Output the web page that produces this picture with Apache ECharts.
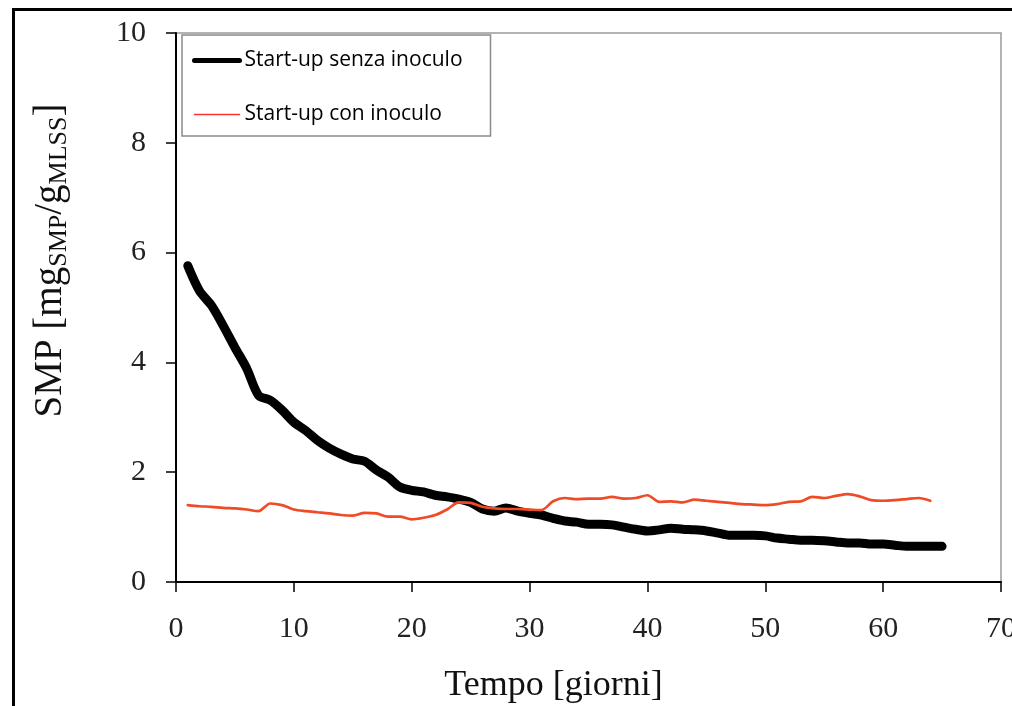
<!DOCTYPE html>
<html>

<head>
    <meta charset="utf-8">
    <title>SMP start-up</title>
    <script type="text/javascript" src="https://cdn.jsdelivr.net/npm/echarts@6/dist/echarts.min.js"></script>
</head>

<body style="margin:0;background:#fff;">
    <div id="main" style="width:1012px;height:706px;"></div>
    <script type="text/javascript">
    // giorni
    var daysNoInoc = [];
    for (var d = 1; d <= 65; d++) daysNoInoc.push(d);
    var daysInoc = [];
    for (var d2 = 1; d2 <= 64; d2++) daysInoc.push(d2);

    // SMP senza inoculo [mg/g]
    var smpNoInoc = [5.76, 5.30, 5.04, 4.67, 4.27, 3.89, 3.40, 3.31, 3.13, 2.91,
        2.76, 2.58, 2.44, 2.33, 2.24, 2.20, 2.04, 1.91, 1.73, 1.67,
        1.64, 1.58, 1.55, 1.51, 1.45, 1.33, 1.29, 1.35, 1.29, 1.25,
        1.22, 1.16, 1.11, 1.09, 1.05, 1.05, 1.04, 1.00, 0.96, 0.93,
        0.95, 0.98, 0.96, 0.95, 0.93, 0.89, 0.85, 0.85, 0.85, 0.84,
        0.80, 0.78, 0.76, 0.76, 0.75, 0.73, 0.71, 0.71, 0.69, 0.69,
        0.67, 0.65, 0.65, 0.65, 0.65];

    // SMP con inoculo [mg/g]
    var smpInoc = [1.40, 1.38, 1.37, 1.35, 1.34, 1.32, 1.29, 1.43, 1.40, 1.32,
        1.29, 1.27, 1.25, 1.22, 1.21, 1.26, 1.25, 1.19, 1.19, 1.14,
        1.17, 1.22, 1.32, 1.45, 1.44, 1.37, 1.34, 1.33, 1.33, 1.32,
        1.31, 1.47, 1.53, 1.51, 1.52, 1.52, 1.55, 1.52, 1.53, 1.58,
        1.46, 1.47, 1.45, 1.50, 1.48, 1.46, 1.44, 1.42, 1.41, 1.40,
        1.42, 1.46, 1.47, 1.55, 1.53, 1.57, 1.60, 1.56, 1.49, 1.48,
        1.49, 1.51, 1.53, 1.48];

    var seriesNames = ['Start-up senza inoculo', 'Start-up con inoculo'];

    function pairs(xs, ys) {
        return xs.map(function(x, i) { return [x, ys[i]]; });
    }

    var serif = '"Liberation Serif", "DejaVu Serif", serif';
    var myChart = echarts.init(document.getElementById('main'));

    var option = {
        animation: false,
        backgroundColor: '#fff',
        graphic: [{
            type: 'rect',
            left: 11,
            top: 7,
            shape: { width: 1100, height: 800 },
            style: { fill: 'none', stroke: '#000', lineWidth: 3 },
            z: 100
        }],
        grid: {
            left: 176,
            top: 33,
            right: 11,
            bottom: 124,
            outerBoundsMode: 'none',
            containLabel: false,
            show: true,
            borderColor: '#9a9a9a',
            borderWidth: 1.5
        },
        legend: {
            orient: 'vertical',
            left: 182,
            top: 35,
            padding: [15, 28, 11, 10],
            itemGap: 33,
            itemWidth: 45,
            itemHeight: 22,
            borderColor: '#8a8a8a',
            borderWidth: 1.5,
            backgroundColor: '#fff',
            textStyle: { fontFamily: '"Open Sans"', fontSize: 21, color: '#000' },
            data: [
                { name: seriesNames[0], itemStyle: { opacity: 0 }, lineStyle: { width: 5, color: '#000' } },
                { name: seriesNames[1], itemStyle: { opacity: 0 }, lineStyle: { width: 1.5, color: '#ff3030' } }
            ]
        },
        xAxis: {
            type: 'value',
            min: 0,
            max: 70,
            interval: 10,
            name: 'Tempo [giorni]',
            nameLocation: 'middle',
            nameGap: 86,
            nameTextStyle: { fontFamily: serif, fontSize: 36, color: '#111', padding: [0, 70, 0, 0] },
            axisLine: { lineStyle: { color: '#000', width: 2 } },
            axisTick: { inside: false, length: 10, lineStyle: { color: '#000', width: 1.5 } },
            axisLabel: { margin: 32, fontFamily: serif, fontSize: 30, color: '#222' },
            splitLine: { show: false }
        },
        yAxis: {
            type: 'value',
            min: 0,
            max: 10,
            interval: 2,
            name: 'SMP [mg{sub|SMP}/g{sub|MLSS}]',
            nameLocation: 'middle',
            nameGap: 104,
            nameTextStyle: {
                fontFamily: serif,
                fontSize: 39,
                color: '#111',
                padding: [0, 0, 0, 94],
                rich: {
                    sub: { fontFamily: serif, fontSize: 26, color: '#111', verticalAlign: 'bottom', padding: [16, 0, 0, 0] }
                }
            },
            axisLine: { show: true, lineStyle: { color: '#000', width: 2 } },
            axisTick: { show: true, inside: false, length: 10, lineStyle: { color: '#000', width: 1.5 } },
            axisLabel: { margin: 30, fontFamily: serif, fontSize: 30, color: '#222' },
            splitLine: { show: false }
        },
        series: [{
            name: seriesNames[0],
            type: 'line',
            symbol: 'none',
            smooth: 0.3,
            data: pairs(daysNoInoc, smpNoInoc),
            lineStyle: { color: '#000', width: 9, cap: 'round', join: 'round' },
            itemStyle: { color: '#000' }
        }, {
            name: seriesNames[1],
            type: 'line',
            symbol: 'none',
            smooth: 0.3,
            data: pairs(daysInoc, smpInoc),
            lineStyle: { color: '#ef4b26', width: 2.7, cap: 'round', join: 'round' },
            itemStyle: { color: '#ef4b26' }
        }]
    };

    myChart.setOption(option);
    </script>
</body>

</html>
